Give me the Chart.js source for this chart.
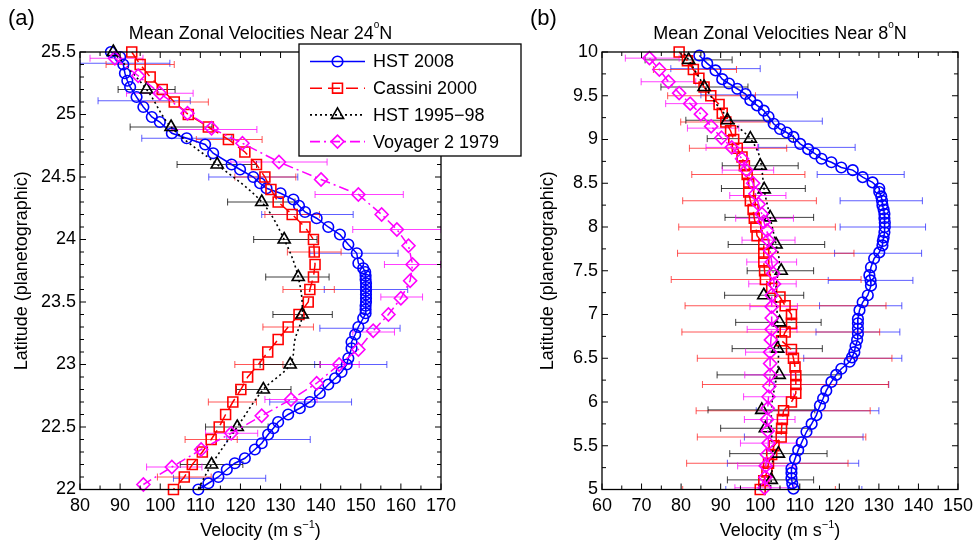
<!DOCTYPE html>
<html>
<head>
<meta charset="utf-8">
<script src="https://cdn.jsdelivr.net/npm/chart.js@4"></script>
<style>
  html, body { margin: 0; padding: 0; background: #fff; }
  #wrap { position: relative; width: 979px; height: 549px; }
  canvas { position: absolute; left: 0; top: 0; }
</style>
</head>
<body>
<div id="wrap">
  <canvas id="left" width="979" height="549"></canvas>
  <canvas id="right" width="979" height="549"></canvas>
</div>
<script>
// ---- panel (a): near 24N ----
const aHst08Lat = [25.50, 25.46, 25.40, 25.33, 25.27, 25.22, 25.14, 25.06, 24.98, 24.94, 24.85, 24.81, 24.76, 24.69, 24.60, 24.56, 24.50, 24.45, 24.41, 24.37, 24.32, 24.27, 24.22, 24.17, 24.10, 24.04, 23.96, 23.89, 23.81, 23.77, 23.74, 23.71, 23.68, 23.65, 23.62, 23.59, 23.56, 23.53, 23.50, 23.47, 23.44, 23.41, 23.37, 23.30, 23.24, 23.18, 23.13, 23.05, 23.00, 22.94, 22.89, 22.84, 22.77, 22.70, 22.65, 22.60, 22.54, 22.49, 22.44, 22.37, 22.32, 22.25, 22.21, 22.16, 22.10, 22.05, 22.00];
const aHst08Vel = [87.7, 90.0, 90.8, 91.2, 91.8, 92.5, 94.1, 95.8, 97.9, 99.9, 102.9, 106.6, 111.2, 113.2, 117.8, 119.9, 123.2, 124.9, 126.5, 130.0, 133.2, 134.6, 136.1, 139.0, 141.9, 144.8, 146.9, 149.0, 149.4, 150.6, 151.1, 151.2, 151.2, 151.3, 151.3, 151.3, 151.3, 151.3, 151.3, 151.2, 151.2, 151.2, 150.6, 149.4, 148.6, 147.7, 147.7, 146.9, 146.5, 145.2, 143.6, 141.9, 139.8, 137.3, 134.8, 131.9, 129.4, 128.2, 126.9, 125.3, 123.6, 121.1, 118.6, 116.6, 114.5, 112.0, 109.5];

const aCasLat = [25.5, 25.4, 25.3, 25.2, 25.1, 25.0, 24.9, 24.8, 24.7, 24.6, 24.5, 24.4, 24.3, 24.2, 24.1, 24.0, 23.9, 23.8, 23.7, 23.6, 23.5, 23.4, 23.3, 23.2, 23.1, 23.0, 22.9, 22.8, 22.7, 22.6, 22.5, 22.4, 22.3, 22.2, 22.1, 22.0];
const aCasVel = [92.9, 95.0, 97.5, 100.5, 103.5, 107.0, 112.0, 117.0, 121.1, 124.0, 126.1, 127.6, 129.4, 132.9, 136.1, 138.2, 138.4, 138.6, 138.2, 137.3, 136.9, 134.6, 131.9, 129.4, 126.8, 124.5, 121.8, 120.1, 118.1, 116.3, 114.7, 112.7, 110.5, 108.0, 106.0, 103.3];

const aHst95Lat = [25.5, 25.2, 24.9, 24.6, 24.3, 24.0, 23.7, 23.4, 23.0, 22.8, 22.5, 22.2];
const aHst95Vel = [88.3, 96.6, 102.7, 114.2, 125.3, 130.9, 134.4, 135.4, 132.4, 125.7, 119.2, 112.8];
const aHst95LineLat = [25.5, 25.2, 24.9, 24.6, 24.3, 24.0, 23.7, 23.4, 23.2, 23.0, 22.8, 22.5, 22.2, 22.0];
const aHst95LineVel = [88.3, 96.6, 102.7, 114.2, 125.3, 130.9, 134.4, 135.4, 133.6, 132.4, 125.7, 119.2, 112.8, 109.4];

const aVoyLat = [25.45, 25.31, 25.17, 25.01, 24.89, 24.77, 24.62, 24.48, 24.36, 24.20, 24.08, 23.95, 23.80, 23.67, 23.53, 23.40, 23.27, 23.12, 23.00, 22.85, 22.72, 22.59, 22.45, 22.32, 22.18, 22.04];
const aVoyVel = [88.7, 94.5, 99.9, 106.8, 112.8, 120.5, 129.6, 140.1, 149.4, 155.2, 159.0, 161.9, 162.9, 162.3, 160.0, 156.9, 153.1, 149.4, 144.6, 139.0, 132.6, 125.3, 117.7, 110.2, 102.9, 95.8];

// error bars: [latitude, centre velocity, half width]
const aHst08Err = [[25.41, 91.2, 11.2], [25.11, 96, 11.5], [24.81, 106.6, 11.2], [24.50, 123.2, 11.1], [24.20, 136.7, 11.4], [23.89, 148.3, 11], [23.60, 151.3, 10.4], [23.29, 149.8, 10], [23.00, 147.5, 9], [22.70, 137.5, 10.2], [22.40, 127, 10.4], [22.09, 114.8, 11.5]];
const aCasErr = [[25.4, 95, 8.5], [25.1, 103.5, 8.5], [24.8, 117.2, 8.2], [24.5, 126.2, 7.6], [24.2, 132.9, 6.8], [23.9, 138.4, 6.7], [23.6, 137, 6.4], [23.3, 131.9, 6.3], [23.0, 124.6, 6], [22.7, 118, 6], [22.4, 112.7, 6.5], [22.1, 106, 6.7]];
const aHst95Err = [[25.2, 96.6, 7.1], [24.9, 102.7, 10.2], [24.6, 114.1, 9.9], [24.3, 125.2, 8.4], [24.0, 131.2, 7.9], [23.7, 134.2, 7.9], [23.4, 135.5, 7.4], [23.0, 132.4, 7.5], [22.8, 125.8, 6.8], [22.5, 119.1, 7.8], [22.2, 112.8, 7.8]];
const aVoyErr = [[25.45, 89.1, 6.6], [25.17, 99.9, 8.3], [24.88, 113.5, 10.6], [24.62, 129.6, 12], [24.36, 149.6, 11], [24.08, 159, 11], [23.80, 162.9, 7], [23.54, 160.2, 5.2], [23.26, 153.2, 5.2], [23.0, 144.7, 4.9], [22.72, 132.6, 6.5], [22.45, 117.8, 6.5], [22.18, 103.5, 6.9]];

// ---- panel (b): near 8N ----
const bHst08Lat = [9.96, 9.87, 9.79, 9.69, 9.64, 9.58, 9.52, 9.45, 9.39, 9.33, 9.26, 9.18, 9.12, 9.08, 9.03, 8.95, 8.89, 8.84, 8.78, 8.74, 8.68, 8.65, 8.57, 8.51, 8.44, 8.40, 8.35, 8.30, 8.25, 8.20, 8.15, 8.10, 8.05, 8.00, 7.94, 7.88, 7.84, 7.79, 7.71, 7.64, 7.54, 7.45, 7.39, 7.33, 7.22, 7.14, 7.05, 6.95, 6.90, 6.84, 6.78, 6.71, 6.64, 6.57, 6.51, 6.46, 6.38, 6.31, 6.23, 6.13, 6.04, 5.96, 5.85, 5.75, 5.66, 5.54, 5.45, 5.35, 5.24, 5.19, 5.13, 5.07, 5.01];
const bHst08Vel = [84.6, 86.6, 88.7, 90.4, 92.1, 94.2, 96.3, 97.5, 99.2, 100.9, 102.1, 103.4, 105.0, 106.7, 108.4, 110.1, 112.1, 113.8, 115.5, 118.0, 120.5, 123.4, 125.9, 128.4, 130.1, 130.1, 130.6, 130.8, 130.9, 131.2, 131.4, 131.4, 131.5, 131.5, 131.4, 131.2, 131.0, 130.9, 130.1, 128.8, 128.0, 127.6, 127.9, 128.0, 127.2, 125.9, 125.1, 124.7, 124.7, 124.7, 124.7, 124.5, 124.1, 123.8, 123.2, 122.6, 120.5, 119.2, 118.0, 116.7, 115.9, 115.1, 114.2, 113.0, 111.7, 110.5, 109.6, 108.8, 107.9, 107.9, 107.9, 108.1, 108.4];

const bCasLat = [10.0, 9.9, 9.8, 9.7, 9.6, 9.5, 9.4, 9.3, 9.2, 9.1, 9.0, 8.9, 8.8, 8.7, 8.6, 8.5, 8.4, 8.3, 8.2, 8.1, 8.0, 7.9, 7.8, 7.7, 7.6, 7.5, 7.4, 7.3, 7.2, 7.1, 7.0, 6.9, 6.8, 6.7, 6.6, 6.5, 6.4, 6.3, 6.2, 6.1, 6.0, 5.9, 5.8, 5.7, 5.6, 5.5, 5.4, 5.3, 5.2, 5.1, 5.0];
const bCasVel = [79.5, 81.6, 83.1, 84.5, 85.8, 87.5, 89.6, 90.4, 91.3, 92.5, 93.3, 94.2, 95.4, 96.0, 96.7, 97.1, 97.1, 97.5, 98.2, 98.5, 98.9, 99.2, 100.9, 100.9, 100.9, 101.1, 101.3, 102.9, 105.0, 106.3, 107.9, 107.9, 106.3, 105.4, 107.9, 108.4, 108.8, 109.0, 109.0, 109.0, 107.9, 105.9, 105.6, 105.4, 105.3, 103.5, 102.9, 102.1, 101.7, 100.9, 100.0];

const bHst95Lat = [9.91, 9.60, 9.22, 9.01, 8.70, 8.43, 8.11, 7.80, 7.50, 7.22, 6.91, 6.61, 6.31, 5.91, 5.70, 5.41, 5.11];
const bHst95Vel = [81.9, 85.8, 91.7, 97.5, 100.0, 101.0, 102.5, 104.0, 105.3, 100.9, 104.9, 104.4, 104.8, 100.4, 101.3, 104.6, 102.8];
const bHst95LineLat = [9.98, 9.91, 9.75, 9.60, 9.40, 9.22, 9.10, 9.01, 8.85, 8.70, 8.43, 8.11, 7.80, 7.60, 7.30, 7.00, 6.70, 6.40, 6.20, 6.00, 5.70, 5.40, 5.11, 5.00];
const bHst95LineVel = [80.8, 81.9, 84.0, 86.0, 89.0, 92.5, 95.5, 97.5, 99.5, 100.3, 101.0, 102.5, 104.0, 104.8, 104.0, 104.3, 104.6, 104.5, 103.8, 103.0, 102.8, 103.2, 102.8, 102.5];

const bVoyLat = [9.93, 9.80, 9.66, 9.53, 9.41, 9.29, 9.15, 9.02, 8.91, 8.78, 8.65, 8.50, 8.38, 8.26, 8.15, 8.06, 7.96, 7.85, 7.73, 7.60, 7.47, 7.35, 7.22, 7.09, 6.96, 6.83, 6.71, 6.57, 6.44, 6.31, 6.18, 6.06, 5.93, 5.80, 5.67, 5.53, 5.40, 5.27, 5.14, 5.02];
const bVoyVel = [72.0, 74.5, 76.8, 79.5, 82.3, 85.0, 87.6, 90.2, 92.8, 95.4, 96.5, 98.2, 98.8, 99.6, 100.4, 100.9, 101.7, 102.0, 102.5, 102.9, 103.3, 103.5, 102.9, 102.9, 102.9, 102.9, 102.7, 102.5, 102.5, 102.5, 102.3, 102.1, 101.9, 101.7, 101.9, 102.1, 101.7, 101.4, 101.3, 101.1];

const bHst08Err = [[9.81, 88.7, 11.3], [9.51, 97.2, 12.2], [9.21, 103, 12.7], [8.91, 111.8, 12.2], [8.60, 125.4, 11], [8.30, 130.6, 10.4], [8.00, 131, 10.8], [7.70, 129.8, 11], [7.39, 127.9, 10.7], [7.10, 125.4, 10.4], [6.80, 124.7, 10.6], [6.50, 123.4, 12.4], [6.20, 118, 14.5], [5.90, 114.5, 15.5], [5.60, 111, 15], [5.30, 108.3, 16.6], [5.00, 108.5, 17.2]];
const bCasErr = [[9.8, 83.5, 10.5], [9.5, 87.7, 11.1], [9.2, 91.2, 11.3], [8.9, 94.4, 12.3], [8.6, 97, 14.3], [8.3, 97.3, 16.9], [8.0, 99.2, 19.8], [7.7, 101.4, 22.3], [7.4, 101.5, 24], [7.1, 106.4, 25.4], [6.8, 105.2, 25], [6.5, 108.7, 24.6], [6.2, 108.9, 23.5], [5.9, 105.8, 22], [5.6, 105.4, 21.3], [5.3, 101.8, 20.4], [5.0, 99.7, 19.3]];
const bHst95Err = [[9.91, 81.9, 11], [9.60, 85.9, 11], [9.22, 91.8, 10.6], [9.01, 97.5, 10.9], [8.70, 100, 9.6], [8.44, 100.8, 10.6], [8.11, 102.3, 11.2], [7.80, 104.1, 12.2], [7.50, 105.1, 8.4], [7.22, 101, 10], [6.91, 104.6, 10.8], [6.61, 104.3, 11.4], [6.31, 104.8, 15.7], [5.91, 100.3, 13.5], [5.70, 101.3, 11.3], [5.41, 104.6, 12.3], [5.11, 102.6, 10.9]];
const bVoyErr = [[9.93, 72.7, 6.8], [9.66, 76.8, 6.9], [9.41, 82.2, 6.1], [9.13, 88.1, 6.5], [8.91, 92.8, 6.5], [8.65, 96.9, 6.5], [8.36, 99.4, 7.1], [8.10, 101.1, 7.3], [7.85, 102.1, 6.7], [7.60, 102.9, 6.3], [7.35, 103.1, 6], [7.09, 103.4, 6], [6.83, 103, 6.3], [6.57, 102.7, 6.4], [6.31, 102.5, 6.4], [6.06, 102.1, 6.3], [5.80, 102.4, 6.4], [5.53, 102.2, 7.2], [5.27, 101.6, 7.3], [5.02, 101.1, 7.5]];

const seriesNames = ["HST 2008", "Cassini 2000", "HST 1995\u221298", "Voyager 2 1979"];

const FONT = "'Liberation Sans', Arial, Helvetica, sans-serif";
const BLUE = "#0000ff", RED = "#ff0000", BLACK = "#000000", MAGENTA = "#ff00ff";
const TRANSP = "rgba(0,0,0,0)";

// marker + line style per series, same order as seriesNames
const styles = [
    { color: BLUE, marker: "circle", r: 5.3, dash: [] },
    { color: RED, marker: "rect", r: 7, dash: [12, 6] },
    { color: BLACK, marker: "triangle", r: 7, dash: [2, 3] },
    { color: MAGENTA, marker: "rectRot", r: 6.5, dash: [10, 4, 2, 4] }
];

function pts(lat, vel) {
    return lat.map((y, i) => ({ x: vel[i], y: y }));
}

function markerSet(i, lat, vel, withLine, order) {
    const s = styles[i];
    return {
        data: pts(lat, vel),
        showLine: withLine,
        borderColor: s.color,
        borderWidth: 1.5,
        borderDash: s.dash,
        pointStyle: s.marker,
        pointRadius: s.r,
        pointHoverRadius: s.r,
        pointBorderColor: s.color,
        pointBackgroundColor: TRANSP,
        pointBorderWidth: 1.6,
        order: order,
        clip: false
    };
}

function lineSet(i, lat, vel, order) {
    const s = styles[i];
    return {
        data: pts(lat, vel),
        showLine: true,
        borderColor: s.color,
        borderWidth: 1.6,
        borderDash: s.dash,
        pointRadius: 0,
        tension: 0.35,
        order: order,
        clip: false
    };
}

function drawMarker(ctx, style, x, y, r) {
    ctx.beginPath();
    if (style === "circle") {
        ctx.arc(x, y, r, 0, Math.PI * 2);
    } else if (style === "rect") {
        const s = Math.SQRT1_2 * r;
        ctx.rect(x - s, y - s, 2 * s, 2 * s);
    } else if (style === "triangle") {
        for (let k = 0; k < 3; k++) {
            const a = k * 2 * Math.PI / 3;
            const px = x + Math.sin(a) * r, py = y - Math.cos(a) * r;
            if (k) ctx.lineTo(px, py); else ctx.moveTo(px, py);
        }
        ctx.closePath();
    } else {
        ctx.moveTo(x - r, y);
        ctx.lineTo(x, y - r);
        ctx.lineTo(x + r, y);
        ctx.lineTo(x, y + r);
        ctx.closePath();
    }
    ctx.stroke();
}

// text pieces: [text, size, dy]
function drawPieces(ctx, pieces, cx, y) {
    let w = 0;
    pieces.forEach(p => { ctx.font = p[1] + "px " + FONT; w += ctx.measureText(p[0]).width; });
    let x = cx - w / 2;
    ctx.textAlign = "left";
    ctx.textBaseline = "alphabetic";
    pieces.forEach(p => {
        ctx.font = p[1] + "px " + FONT;
        ctx.fillText(p[0], x, y + p[2]);
        x += ctx.measureText(p[0]).width;
    });
}

function decor(p) {
    return {
        id: "decor",
        beforeDatasetsDraw(chart) {
            const { ctx, chartArea: a, scales: { x, y } } = chart;
            ctx.save();
            ctx.beginPath();
            ctx.rect(a.left, a.top, a.right - a.left, a.bottom - a.top);
            ctx.clip();
            ctx.lineWidth = 1;
            p.errors.forEach(set => {
                ctx.strokeStyle = set.color;
                set.data.forEach(([lat, v, h]) => {
                    const py = y.getPixelForValue(lat);
                    const x0 = x.getPixelForValue(v - h), x1 = x.getPixelForValue(v + h);
                    ctx.beginPath();
                    ctx.moveTo(x0, py); ctx.lineTo(x1, py);
                    ctx.moveTo(x0, py - 3.5); ctx.lineTo(x0, py + 3.5);
                    ctx.moveTo(x1, py - 3.5); ctx.lineTo(x1, py + 3.5);
                    ctx.stroke();
                });
            });
            ctx.restore();
        },
        afterDraw(chart) {
            const { ctx, chartArea: a, scales: { x, y } } = chart;
            ctx.save();
            ctx.strokeStyle = "#000";
            ctx.fillStyle = "#000";
            ctx.lineWidth = 1.3;
            ctx.strokeRect(a.left, a.top, a.right - a.left, a.bottom - a.top);

            // inward ticks on all four sides
            ctx.lineWidth = 1;
            ctx.beginPath();
            const nx = Math.round((x.max - x.min) / p.minorX);
            for (let i = 0; i <= nx; i++) {
                const v = x.min + i * p.minorX;
                const px = x.getPixelForValue(v);
                const L = (i % p.xEvery === 0) ? 6 : 4;
                ctx.moveTo(px, a.bottom); ctx.lineTo(px, a.bottom - L);
                ctx.moveTo(px, a.top); ctx.lineTo(px, a.top + L);
            }
            const ny = Math.round((y.max - y.min) / p.minorY);
            for (let i = 0; i <= ny; i++) {
                const v = y.min + i * p.minorY;
                const py = y.getPixelForValue(v);
                const L = (i % p.yEvery === 0) ? 6 : 4;
                ctx.moveTo(a.left, py); ctx.lineTo(a.left + L, py);
                ctx.moveTo(a.right, py); ctx.lineTo(a.right - L, py);
            }
            ctx.stroke();

            const cx = (a.left + a.right) / 2;
            // title with degree sign
            drawPieces(ctx, [[p.titleA, 18, 0], ["o", 10, -11], ["N", 18, 0]], cx, 39);
            // x axis title
            drawPieces(ctx, [["Velocity (m s", 18, 0], ["\u22121", 11, -8], [")", 18, 0]], cx, 536);
            // y axis title
            ctx.save();
            ctx.translate(p.yTitleX, (a.top + a.bottom) / 2);
            ctx.rotate(-Math.PI / 2);
            ctx.font = "18px " + FONT;
            ctx.textAlign = "center";
            ctx.textBaseline = "middle";
            ctx.fillText("Latitude (planetographic)", 0, 0);
            ctx.restore();
            // panel letter
            ctx.font = "22px " + FONT;
            ctx.textAlign = "left";
            ctx.textBaseline = "middle";
            ctx.fillText(p.letter, p.letterX, 19);

            if (p.legend) {
                const L = p.legend;
                ctx.fillStyle = "#fff";
                ctx.fillRect(L.x, L.y, L.w, L.h);
                ctx.lineWidth = 1.3;
                ctx.strokeStyle = "#000";
                ctx.strokeRect(L.x, L.y, L.w, L.h);
                seriesNames.forEach((name, i) => {
                    const s = styles[i];
                    const ry = L.y + 17.5 + i * 26.7;
                    ctx.strokeStyle = s.color;
                    ctx.lineWidth = 1.6;
                    ctx.setLineDash(s.dash);
                    ctx.beginPath();
                    ctx.moveTo(L.x + 11, ry); ctx.lineTo(L.x + 66, ry);
                    ctx.stroke();
                    ctx.setLineDash([]);
                    ctx.lineWidth = 1.6;
                    drawMarker(ctx, s.marker, L.x + 38.5, ry, s.r);
                    ctx.fillStyle = "#000";
                    ctx.font = "18px " + FONT;
                    ctx.textAlign = "left";
                    ctx.textBaseline = "middle";
                    ctx.fillText(name, L.x + 74, ry + 1);
                });
            }
            ctx.restore();
        }
    };
}

function scalesFor(xmin, xmax, ymin, ymax, ystep) {
    const tickFont = { family: FONT, size: 18 };
    const plain = v => String(+(+v).toFixed(2));
    return {
        x: {
            type: "linear", min: xmin, max: xmax,
            grid: { display: false, drawTicks: false },
            border: { display: false },
            ticks: { stepSize: 10, font: tickFont, color: "#000", padding: 6, maxRotation: 0, autoSkip: false, callback: plain },
            afterFit: s => { s.height = 59.5; }
        },
        y: {
            type: "linear", min: ymin, max: ymax,
            grid: { display: false, drawTicks: false },
            border: { display: false },
            ticks: { stepSize: ystep, font: tickFont, color: "#000", padding: 4, autoSkip: false, callback: plain },
            afterFit: s => { s.width = 80; }
        }
    };
}

function makeChart(id, datasets, scales, padding, deco) {
    return new Chart(document.getElementById(id), {
        type: "scatter",
        data: { datasets: datasets },
        options: {
            responsive: false,
            animation: false,
            events: [],
            layout: { padding: padding },
            plugins: { legend: { display: false }, tooltip: { enabled: false }, title: { display: false } },
            scales: scales
        },
        plugins: [decor(deco)]
    });
}

makeChart("left", [
    markerSet(0, aHst08Lat, aHst08Vel, true, 5),
    markerSet(1, aCasLat, aCasVel, true, 4),
    lineSet(2, aHst95LineLat, aHst95LineVel, 3),
    markerSet(2, aHst95Lat, aHst95Vel, false, 2),
    markerSet(3, aVoyLat, aVoyVel, true, 1)
], scalesFor(80, 170, 22, 25.5, 0.5), { left: 0, right: 538, top: 52, bottom: 0 }, {
    errors: [
        { color: "rgba(40,40,255,0.75)", data: aHst08Err },
        { color: "rgba(255,30,30,0.75)", data: aCasErr },
        { color: "rgba(0,0,0,0.75)", data: aHst95Err },
        { color: "rgba(255,0,255,0.75)", data: aVoyErr }
    ],
    minorX: 5, xEvery: 2, minorY: 0.1, yEvery: 5,
    titleA: "Mean Zonal Velocities Near 24",
    yTitleX: 22, letter: "(a)", letterX: 8,
    legend: { x: 299, y: 44, w: 222, h: 112 }
});

makeChart("right", [
    markerSet(0, bHst08Lat, bHst08Vel, true, 5),
    markerSet(1, bCasLat, bCasVel, true, 4),
    lineSet(2, bHst95LineLat, bHst95LineVel, 3),
    markerSet(2, bHst95Lat, bHst95Vel, false, 2),
    markerSet(3, bVoyLat, bVoyVel, true, 1)
], scalesFor(60, 150, 5, 10, 0.5), { left: 522, right: 18, top: 52, bottom: 0 }, {
    errors: [
        { color: "rgba(40,40,255,0.75)", data: bHst08Err },
        { color: "rgba(255,30,30,0.75)", data: bCasErr },
        { color: "rgba(0,0,0,0.75)", data: bHst95Err },
        { color: "rgba(255,0,255,0.75)", data: bVoyErr }
    ],
    minorX: 5, xEvery: 2, minorY: 0.25, yEvery: 2,
    titleA: "Mean Zonal Velocities Near 8",
    yTitleX: 548, letter: "(b)", letterX: 530,
    legend: null
});
</script>
</body>
</html>
